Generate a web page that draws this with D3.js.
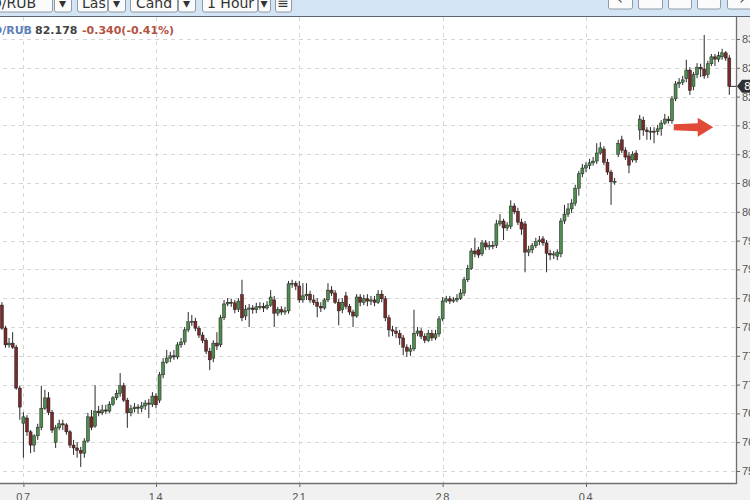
<!DOCTYPE html>
<html>
<head>
<meta charset="utf-8">
<script src="https://cdn.jsdelivr.net/npm/d3@7"></script>
<style>
body{margin:0;background:#f1f1f1;}
svg{display:block;font-family:"DejaVu Sans",Verdana,sans-serif;}
.grid line{stroke:#d6d6d6;stroke-dasharray:4,4;shape-rendering:crispEdges;}
.axis text{fill:#555;font-size:11px;}
.axis line{stroke:#666;}
</style>
</head>
<body>
<script>

// hourly candles
var opens = [78.38,77.98,77.69,77.72,77.65,76.94,76.33,76.42,76.18,75.95,
76.11,76.26,76.59,76.77,76.52,76.00,76.25,76.32,76.30,76.18,
75.95,75.90,75.86,75.81,76.02,76.44,76.28,76.54,76.51,76.56,
76.54,76.66,76.77,76.85,76.98,76.73,76.51,76.58,76.61,76.59,
76.63,76.68,76.66,76.80,76.73,77.17,77.39,77.46,77.50,77.48,
77.69,77.74,77.95,78.09,78.10,77.98,77.86,77.77,77.58,77.46,
77.72,77.69,78.16,78.40,78.43,78.42,78.31,78.56,78.19,78.31,
78.33,78.30,78.35,78.36,78.33,78.38,78.47,78.24,78.30,78.26,
78.28,78.75,78.76,78.71,78.47,78.54,78.57,78.47,78.43,78.36,
78.33,78.47,78.64,78.59,78.43,78.30,78.54,78.36,78.26,78.19,
78.52,78.43,78.49,78.45,78.47,78.43,78.57,78.49,78.16,77.95,
77.93,77.89,77.81,77.65,77.58,77.62,77.89,77.93,77.84,77.77,
77.89,77.81,77.88,78.14,78.45,78.49,78.45,78.47,78.50,78.59,
78.82,79.02,79.32,79.34,79.27,79.46,79.39,79.42,79.42,79.79,
79.84,79.72,79.75,80.10,80.01,79.82,79.79,79.30,79.34,79.41,
79.48,79.53,79.46,79.28,79.25,79.23,79.27,79.84,79.96,80.05,
80.15,80.41,80.66,80.76,80.80,80.85,80.88,81.02,81.09,80.86,
80.69,80.52,81.00,81.25,81.07,80.97,80.90,81.02,81.42,81.59,
81.42,81.39,81.40,81.39,81.44,81.54,81.61,81.58,81.96,82.22,
82.25,82.31,82.46,82.18,82.38,82.51,82.48,82.38,82.57,82.69,
82.65,82.69,82.76,82.67];

var highs = [78.43,78.02,77.81,77.91,77.69,76.98,76.52,76.47,76.21,76.14,
76.32,76.98,76.91,76.87,76.56,76.30,76.39,76.39,76.33,76.21,
76.04,76.00,75.92,76.07,76.51,76.56,76.99,76.63,76.65,76.65,
76.71,76.80,76.91,77.20,77.03,76.77,76.65,76.68,76.66,76.70,
76.73,76.75,76.87,76.85,77.22,77.46,77.60,77.57,77.60,77.74,
77.81,78.00,78.26,78.21,78.16,78.02,77.91,77.81,77.64,77.77,
77.91,78.21,78.47,78.50,78.49,78.47,78.50,78.82,78.38,78.40,
78.38,78.42,78.43,78.42,78.45,78.64,78.54,78.35,78.36,78.35,
78.80,78.82,78.80,78.80,78.76,78.76,78.63,78.56,78.50,78.43,
78.50,78.76,78.71,78.64,78.49,78.50,78.61,78.40,78.30,78.57,
78.57,78.56,78.57,78.54,78.54,78.64,78.64,78.54,78.21,78.02,
78.00,77.95,77.86,77.70,77.69,78.30,78.00,77.98,77.89,77.95,
77.95,77.95,78.19,78.52,78.54,78.54,78.52,78.57,78.66,78.87,
79.08,79.37,79.55,79.39,79.51,79.51,79.49,79.49,79.86,79.96,
79.88,79.82,80.20,80.15,80.07,79.88,79.84,79.41,79.46,79.55,
79.58,79.58,79.51,79.34,79.32,79.35,79.89,80.12,80.15,80.22,
80.47,80.71,80.83,80.86,80.92,80.95,81.19,81.21,81.14,80.92,
80.73,80.59,81.25,81.32,81.12,81.04,81.05,81.07,81.68,81.65,
81.47,81.47,81.47,81.51,81.59,81.70,81.66,82.01,82.27,82.32,
82.36,82.64,82.51,82.43,82.58,82.57,83.07,82.62,82.74,82.74,
82.78,82.83,82.79,82.72];

var lows = [77.95,77.64,77.64,77.62,76.91,76.39,75.73,76.11,75.81,75.83,
76.04,76.21,76.56,76.47,76.16,75.90,76.21,76.21,76.13,75.90,
75.78,75.73,75.57,75.73,75.99,76.21,76.25,76.45,76.47,76.49,
76.51,76.63,76.73,76.79,76.70,76.25,76.45,76.52,76.49,76.52,
76.56,76.42,76.61,76.59,76.68,77.11,77.36,77.39,77.43,77.44,
77.64,77.69,77.91,78.02,77.93,77.81,77.72,77.53,77.25,77.39,
77.60,77.65,78.12,78.36,78.35,78.24,78.26,78.10,78.12,78.00,
78.23,78.24,78.30,78.26,78.30,78.35,78.00,78.19,78.21,78.21,
78.23,78.68,78.64,78.42,78.42,78.47,78.42,78.38,78.17,78.26,
78.30,78.43,78.54,78.40,78.03,78.24,78.31,78.21,78.00,78.16,
78.36,78.38,78.36,78.38,78.36,78.40,78.43,78.10,77.83,77.84,
77.81,77.69,77.51,77.48,77.50,77.58,77.84,77.79,77.72,77.74,
77.76,77.77,77.83,78.10,78.42,78.40,78.42,78.43,78.47,78.54,
78.78,78.99,79.21,79.20,79.23,79.34,79.34,79.35,79.37,79.75,
79.51,79.67,79.70,79.96,79.77,79.60,78.95,79.23,79.28,79.37,
79.42,79.41,78.95,79.16,79.18,79.16,79.21,79.79,79.91,79.98,
80.10,80.28,80.60,80.69,80.74,80.80,80.83,80.99,80.81,80.64,
80.12,80.47,80.95,81.02,80.90,80.67,80.86,80.85,81.25,81.32,
81.25,81.25,81.19,81.33,81.32,81.51,81.53,81.53,81.92,82.15,
82.20,82.25,82.03,82.11,82.32,82.34,82.31,82.32,82.53,82.53,
82.60,82.64,82.62,82.03];

var closes = [77.98,77.69,77.72,77.65,76.94,76.61,76.44,76.18,75.95,76.11,
76.26,76.59,76.77,76.52,76.21,76.25,76.32,76.30,76.18,75.95,
75.90,75.86,75.81,76.02,76.44,76.26,76.54,76.51,76.56,76.54,
76.66,76.77,76.85,76.98,76.73,76.51,76.58,76.61,76.59,76.63,
76.68,76.66,76.80,76.65,77.17,77.39,77.46,77.50,77.48,77.69,
77.74,77.95,78.09,78.10,77.98,77.86,77.77,77.58,77.43,77.72,
77.67,78.16,78.40,78.43,78.42,78.30,78.45,78.16,78.31,78.33,
78.30,78.35,78.36,78.33,78.38,78.52,78.24,78.30,78.26,78.28,
78.75,78.76,78.71,78.47,78.54,78.57,78.47,78.43,78.36,78.33,
78.47,78.64,78.59,78.43,78.28,78.43,78.36,78.26,78.19,78.52,
78.43,78.49,78.45,78.47,78.43,78.57,78.49,78.16,77.95,77.93,
77.89,77.81,77.65,77.58,77.62,77.89,77.93,77.84,77.77,77.89,
77.81,77.88,78.14,78.45,78.49,78.45,78.47,78.50,78.59,78.82,
79.02,79.32,79.27,79.25,79.46,79.39,79.42,79.41,79.79,79.84,
79.72,79.77,80.10,80.00,79.82,79.70,79.30,79.34,79.41,79.48,
79.51,79.46,79.28,79.25,79.27,79.30,79.84,79.96,80.05,80.15,
80.41,80.66,80.76,80.80,80.85,80.88,81.02,81.11,80.86,80.69,
80.52,80.53,81.19,81.07,80.95,80.81,81.00,80.90,81.61,81.42,
81.39,81.40,81.39,81.44,81.54,81.61,81.58,81.96,82.22,82.25,
82.29,82.46,82.11,82.38,82.51,82.48,82.36,82.57,82.69,82.65,
82.71,82.76,82.67,82.178];

// candle index of each week start and its label
var weekTicks = [6, 43, 83, 123, 163];
var weekLabels = ["07", "14", "21", "28", "04"];

var priceTicks = [75.5,76,76.5,77,77.5,78,78.5,79,79.5,80,80.5,81,81.5,82,82.5,83];

var symbol = "USD/RUB";
var lastPrice = 82.178;
var changeText = "-0.340(-0.41%)";


var width = 750;
var height = 500;
var plot = {left:-5, right:736, top:17, bottom:483};

var data = opens.map(function(o, i){
    return {i:i, open:o, high:highs[i], low:lows[i], close:closes[i]};
});

//SCALES

var xScale = d3.scaleLinear()
    .domain([0, opens.length - 1])
    .range([1.9, 729.3]);

var yScale = d3.scaleLinear()
    .domain([75.5, 83])
    .range([471, 39]);

//PAGE ELEMENTS

var svg = d3.select("body").append("svg")
    .attr("width", width)
    .attr("height", height);

// toolbar strip, cut at the top edge like the screenshot
svg.append("rect").attr("x", 0).attr("y", 0).attr("width", width).attr("height", 16)
    .attr("fill", "#d3e4f4");

var buttons = [
    {x:-30, w:82, label:"USD/RUB", anchor:"end", tx:36},
    {x:54, w:17, label:"\u25BE"},
    {x:77, w:30, label:"Las", anchor:"start", tx:82},
    {x:108, w:17, label:"\u25BE"},
    {x:130, w:47, label:"Cand", anchor:"start", tx:136},
    {x:178, w:17, label:"\u25BE"},
    {x:202, w:55, label:"1 Hour", anchor:"start", tx:207},
    {x:258, w:12, label:"\u25BE"},
    {x:275, w:16, label:"\u2261"},
    {x:608, w:24, label:"\u2039"},
    {x:638, w:24, label:"\u00B7"},
    {x:668, w:23, label:""},
    {x:697, w:23, label:"\u00B7"},
    {x:727, w:30, label:"\u203A"}
];

var btn = svg.append("g").selectAll("g").data(buttons).enter().append("g");
btn.append("rect")
    .attr("x", function(d){return d.x + 0.5;})
    .attr("y", -12)
    .attr("width", function(d){return d.w;})
    .attr("height", function(d){return d.x > 600 ? 21 : 24;})
    .attr("rx", 2)
    .attr("fill", "#fbfbfb")
    .attr("stroke", "#8e9aa6");
btn.append("text")
    .attr("x", function(d){return d.tx !== undefined ? d.tx : d.x + d.w / 2;})
    .attr("y", function(d){return d.x > 600 ? 4 : 8;})
    .attr("text-anchor", function(d){return d.anchor || "middle";})
    .attr("font-size", "14px")
    .attr("fill", "#333")
    .text(function(d){return d.label;});

// plot background
svg.append("rect")
    .attr("x", plot.left).attr("y", plot.top)
    .attr("width", plot.right - plot.left).attr("height", plot.bottom - plot.top)
    .attr("fill", "#fff");

svg.append("line").attr("x1", 0).attr("x2", width).attr("y1", 16.5).attr("y2", 16.5)
    .attr("stroke", "#5d6670").attr("stroke-width", 1.2);

//GRID

var grid = svg.append("g").attr("class", "grid");
grid.selectAll("line.h").data(priceTicks).enter().append("line")
    .attr("class", "h")
    .attr("x1", plot.left).attr("x2", plot.right)
    .attr("y1", function(d){return Math.round(yScale(d)) + 0.5;})
    .attr("y2", function(d){return Math.round(yScale(d)) + 0.5;});
grid.selectAll("line.v").data(weekTicks).enter().append("line")
    .attr("class", "v")
    .attr("y1", plot.top).attr("y2", plot.bottom)
    .attr("x1", function(d){return Math.round(xScale(d)) + 0.5;})
    .attr("x2", function(d){return Math.round(xScale(d)) + 0.5;});

//CANDLES

var candles = svg.append("g").selectAll("g").data(data).enter().append("g");

candles.append("line")
    .attr("x1", function(d){return xScale(d.i);})
    .attr("x2", function(d){return xScale(d.i);})
    .attr("y1", function(d){return yScale(d.high);})
    .attr("y2", function(d){return yScale(d.low);})
    .attr("stroke", "#2a2a2a")
    .attr("stroke-width", 1);

candles.append("rect")
    .attr("x", function(d){return xScale(d.i) - 1.5;})
    .attr("width", 3)
    .attr("y", function(d){return yScale(Math.max(d.open, d.close));})
    .attr("height", function(d){return Math.max(1, Math.abs(yScale(d.open) - yScale(d.close)));})
    .attr("fill", function(d){return d.close >= d.open ? "#4f8d4f" : "#7a2a2a";})
    .attr("stroke", "#1e1e1e")
    .attr("stroke-width", 0.5);

// last price line
var lastY = yScale(lastPrice);
svg.append("line")
    .attr("x1", xScale(opens.length - 1)).attr("x2", plot.right)
    .attr("y1", lastY).attr("y2", lastY)
    .attr("stroke", "#333").attr("stroke-width", 1);

// red arrow drawn on the chart
var ax0 = xScale(187.5), ax1 = xScale(194.2), ax2 = xScale(198.5), ay = yScale(81.47);
svg.append("path")
    .attr("d", "M" + ax0 + "," + (ay - 3) + "L" + ax1 + "," + (ay - 4) + "L" + ax1 + "," + (ay - 9.5) +
        "L" + ax2 + "," + ay + "L" + ax1 + "," + (ay + 9.5) + "L" + ax1 + "," + (ay + 4) +
        "L" + ax0 + "," + (ay + 3) + "Z")
    .attr("fill", "#e24a38");

//AXIS

var xAxis = d3.axisBottom(xScale)
    .tickValues(weekTicks)
    .tickFormat(function(d, i){return weekLabels[i];})
    .tickSize(4)
    .tickPadding(6);

var yAxis = d3.axisRight(yScale)
    .tickValues(priceTicks)
    .tickFormat(d3.format(".3f"))
    .tickSize(4)
    .tickPadding(2);

svg.append("g")
    .attr("class", "x axis")
    .attr("transform", "translate(0," + plot.bottom + ")")
    .call(xAxis)
    .call(function(g){g.select(".domain").remove();})
    .selectAll("text").attr("letter-spacing", "1.5px");

svg.append("g")
    .attr("class", "y axis")
    .attr("transform", "translate(" + plot.right + ",0)")
    .call(yAxis)
    .call(function(g){g.select(".domain").remove();});

// frame
svg.append("path")
    .attr("d", "M" + plot.left + "," + (plot.bottom + 0.5) + "H" + (plot.right + 0.5) + "V" + plot.top)
    .attr("fill", "none")
    .attr("stroke", "#6f6f6f")
    .attr("stroke-width", 1.3);

// last price tag on the axis
svg.append("path")
    .attr("d", "M" + (plot.right + 1) + "," + lastY + "L" + (plot.right + 6) + "," + (lastY - 6.5) +
        "H" + (width + 5) + "V" + (lastY + 6.5) + "H" + (plot.right + 6) + "Z")
    .attr("fill", "#303030");
svg.append("text")
    .attr("x", plot.right + 8).attr("y", lastY + 4)
    .attr("font-size", "11px").attr("fill", "#fff")
    .text(d3.format(".3f")(lastPrice));

//HEADER

svg.append("text").attr("x", 32).attr("y", 34).attr("text-anchor", "end")
    .attr("font-size", "11px").attr("font-weight", "bold").attr("fill", "#5c80b8")
    .text(symbol);
svg.append("text").attr("x", 35).attr("y", 34)
    .attr("font-size", "11px").attr("font-weight", "bold").attr("fill", "#444")
    .text(d3.format(".3f")(lastPrice));
svg.append("text").attr("x", 82).attr("y", 34)
    .attr("font-size", "11px").attr("font-weight", "bold").attr("fill", "#b4533f")
    .text(changeText);

</script>
</body>
</html>
